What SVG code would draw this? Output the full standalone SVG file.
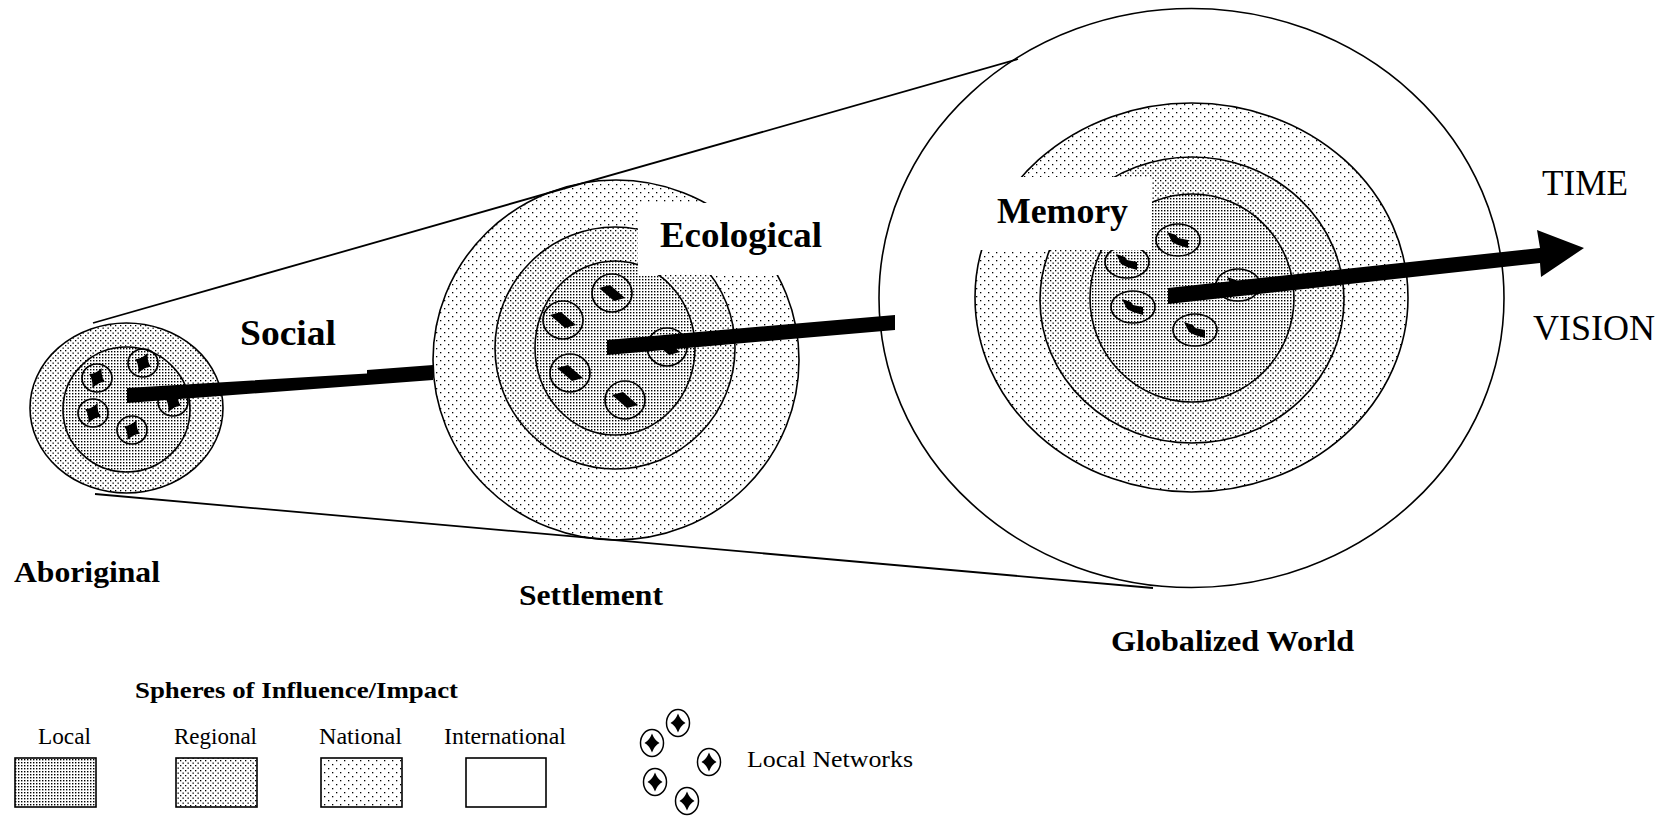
<svg xmlns="http://www.w3.org/2000/svg" xmlns:xlink="http://www.w3.org/1999/xlink" width="1669" height="822" viewBox="0 0 1669 822">
<style>
.ring{stroke:#000;stroke-width:1.6}
.net{fill:none;stroke:#000;stroke-width:1.7}
.lnet{fill:#fff;stroke:#000;stroke-width:1.5}
.ink{fill:#000}
.tline{fill:none;stroke:#000;stroke-width:1.8}
.big{font-family:"Liberation Serif","Times New Roman",serif;font-weight:bold;font-size:36px;fill:#000}
.name{font-family:"Liberation Serif","Times New Roman",serif;font-weight:bold;font-size:30px;fill:#000}
.tv{font-family:"Liberation Serif","Times New Roman",serif;font-size:35px;fill:#000}
.leg{font-family:"Liberation Serif","Times New Roman",serif;font-size:24px;fill:#000}
.legt{font-family:"Liberation Serif","Times New Roman",serif;font-weight:bold;font-size:23px;fill:#000}
</style>
<defs>
<pattern id="pLocal" width="3" height="3" patternUnits="userSpaceOnUse"><rect width="3" height="3" fill="#fff"/><rect width="1.4" height="1.4" fill="#000"/></pattern>
<pattern id="pRegional" width="5" height="5" patternUnits="userSpaceOnUse"><rect width="5" height="5" fill="#fff"/><rect width="1.3" height="1.3" fill="#000"/><rect x="2.5" y="2.5" width="1.3" height="1.3" fill="#000"/></pattern>
<pattern id="pNational" width="8" height="8" patternUnits="userSpaceOnUse"><rect width="8" height="8" fill="#fff"/><rect width="1.3" height="1.3" fill="#000"/><rect x="4" y="4" width="1.3" height="1.3" fill="#000"/></pattern>
<path id="star" d="M0,-9.5 Q2.6,-2.6 7.5,0 Q2.6,2.6 0,9.5 Q-2.6,2.6 -7.5,0 Q-2.6,-2.6 0,-9.5 Z"/>
<path id="diamond" d="M-13,-5 L-2,-8 L13,5 L2,8 Z"/>
<path id="flag" d="M-11,-8 L-2,-5 L0,-2 L10,0 L10,8 L0,5 L-6,2 Z"/>
</defs>
<rect width="1669" height="822" fill="#fff"/>

<g id="node-aboriginal">
<ellipse class="ring" cx="126.5" cy="408" rx="96.5" ry="85" fill="url(#pRegional)"/>
<ellipse class="ring" cx="126.5" cy="409.5" rx="63.5" ry="62.5" fill="url(#pLocal)"/>
<g class="net">
<ellipse cx="143" cy="363" rx="15" ry="14"/>
<ellipse cx="97" cy="378" rx="15" ry="14"/>
<ellipse cx="93" cy="413" rx="15" ry="14"/>
<ellipse cx="132" cy="430" rx="15" ry="14"/>
<ellipse cx="173" cy="402" rx="15" ry="14"/>
</g>
<use xlink:href="#star" class="ink" transform="translate(143,363) rotate(25) scale(1.15)"/>
<use xlink:href="#star" class="ink" transform="translate(97,378) rotate(25) scale(1.15)"/>
<use xlink:href="#star" class="ink" transform="translate(93,413) rotate(25) scale(1.15)"/>
<use xlink:href="#star" class="ink" transform="translate(132,430) rotate(25) scale(1.15)"/>
<use xlink:href="#star" class="ink" transform="translate(173,402) rotate(25) scale(1.15)"/>
<text class="name" x="14" y="582" textLength="146" lengthAdjust="spacingAndGlyphs">Aboriginal</text>
</g>

<g id="node-settlement">
<ellipse class="ring" cx="616" cy="360" rx="183" ry="180" fill="url(#pNational)"/>
<ellipse class="ring" cx="615" cy="348" rx="120" ry="121" fill="url(#pRegional)"/>
<ellipse class="ring" cx="615" cy="348" rx="80" ry="87" fill="url(#pLocal)"/>
<g class="net">
<ellipse cx="612" cy="293" rx="20" ry="19"/>
<ellipse cx="563" cy="320" rx="20" ry="19"/>
<ellipse cx="570" cy="373" rx="20" ry="19"/>
<ellipse cx="625" cy="400" rx="20" ry="19"/>
<ellipse cx="667" cy="347" rx="20" ry="19"/>
</g>
<use xlink:href="#diamond" class="ink" transform="translate(612,293)"/>
<use xlink:href="#diamond" class="ink" transform="translate(563,320)"/>
<use xlink:href="#diamond" class="ink" transform="translate(570,373)"/>
<use xlink:href="#diamond" class="ink" transform="translate(625,400)"/>
<use xlink:href="#diamond" class="ink" transform="translate(667,347)"/>
<text class="name" x="519" y="605" textLength="144" lengthAdjust="spacingAndGlyphs">Settlement</text>
</g>

<g id="node-globalized">
<ellipse class="ring" cx="1191.5" cy="298" rx="312.5" ry="289.5" fill="#fff"/>
<ellipse class="ring" cx="1191.5" cy="297.5" rx="216.5" ry="194.5" fill="url(#pNational)"/>
<ellipse class="ring" cx="1192" cy="300" rx="152" ry="143" fill="url(#pRegional)"/>
<ellipse class="ring" cx="1192" cy="298" rx="102" ry="104" fill="url(#pLocal)"/>
<g class="net">
<ellipse cx="1178" cy="240" rx="22" ry="16"/>
<ellipse cx="1127" cy="262" rx="22" ry="16"/>
<ellipse cx="1133" cy="307" rx="22" ry="16"/>
<ellipse cx="1195" cy="330" rx="22" ry="16"/>
<ellipse cx="1238" cy="285" rx="22" ry="16"/>
</g>
<use xlink:href="#flag" class="ink" transform="translate(1178,240)"/>
<use xlink:href="#flag" class="ink" transform="translate(1127,262)"/>
<use xlink:href="#flag" class="ink" transform="translate(1133,307)"/>
<use xlink:href="#flag" class="ink" transform="translate(1195,330)"/>
<use xlink:href="#flag" class="ink" transform="translate(1238,285)"/>
<text class="name" x="1111" y="651" textLength="243" lengthAdjust="spacingAndGlyphs">Globalized World</text>
</g>

<g id="connectors">
<line class="tline" x1="93" y1="323" x2="1018" y2="59"/>
<line class="tline" x1="95" y1="494" x2="1153" y2="588"/>
<polygon class="ink" points="127,388 367,373.5 367,370 433,365 433,380 127,403"/>
<polygon class="ink" points="607,340 895,315 895,330 607,355"/>
<polygon class="ink" points="1168,288 1540,248 1537,230 1584,248 1541,277 1540,263 1168,304"/>
</g>

<g id="connector-labels">
<text class="big" x="240" y="345" textLength="96" lengthAdjust="spacingAndGlyphs">Social</text>
<rect x="638" y="203" width="190" height="72" fill="#fff"/>
<text class="big" x="660" y="247" textLength="162" lengthAdjust="spacingAndGlyphs">Ecological</text>
<rect x="975" y="177" width="177" height="73" fill="#fff"/>
<text class="big" x="997" y="223" textLength="131" lengthAdjust="spacingAndGlyphs">Memory</text>
<text class="tv" x="1542" y="195" textLength="86" lengthAdjust="spacingAndGlyphs">TIME</text>
<text class="tv" x="1533" y="340" textLength="122" lengthAdjust="spacingAndGlyphs">VISION</text>
</g>

<g id="legend">
<text class="legt" x="135" y="698" textLength="323" lengthAdjust="spacingAndGlyphs">Spheres of Influence/Impact</text>
<text class="leg" x="38" y="744" textLength="53" lengthAdjust="spacingAndGlyphs">Local</text>
<text class="leg" x="174" y="744" textLength="83" lengthAdjust="spacingAndGlyphs">Regional</text>
<text class="leg" x="319" y="744" textLength="83" lengthAdjust="spacingAndGlyphs">National</text>
<text class="leg" x="444" y="744" textLength="122" lengthAdjust="spacingAndGlyphs">International</text>
<rect class="ring" x="15" y="758" width="81" height="49" fill="url(#pLocal)"/>
<rect class="ring" x="176" y="758" width="81" height="49" fill="url(#pRegional)"/>
<rect class="ring" x="321" y="758" width="81" height="49" fill="url(#pNational)"/>
<rect class="ring" x="466" y="758" width="80" height="49" fill="#fff"/>
<g id="legend-networks">
<ellipse class="lnet" cx="678" cy="723" rx="11.5" ry="13.5"/>
<ellipse class="lnet" cx="652" cy="743" rx="11.5" ry="13.5"/>
<ellipse class="lnet" cx="709" cy="762" rx="11.5" ry="13.5"/>
<ellipse class="lnet" cx="655" cy="782" rx="11.5" ry="13.5"/>
<ellipse class="lnet" cx="687" cy="801" rx="11.5" ry="13.5"/>
<use xlink:href="#star" class="ink" transform="translate(678,723)"/>
<use xlink:href="#star" class="ink" transform="translate(652,743)"/>
<use xlink:href="#star" class="ink" transform="translate(709,762)"/>
<use xlink:href="#star" class="ink" transform="translate(655,782)"/>
<use xlink:href="#star" class="ink" transform="translate(687,801)"/>
</g>
<text class="leg" x="747" y="767" font-size="25" textLength="166" lengthAdjust="spacingAndGlyphs">Local Networks</text>
</g>
</svg>
